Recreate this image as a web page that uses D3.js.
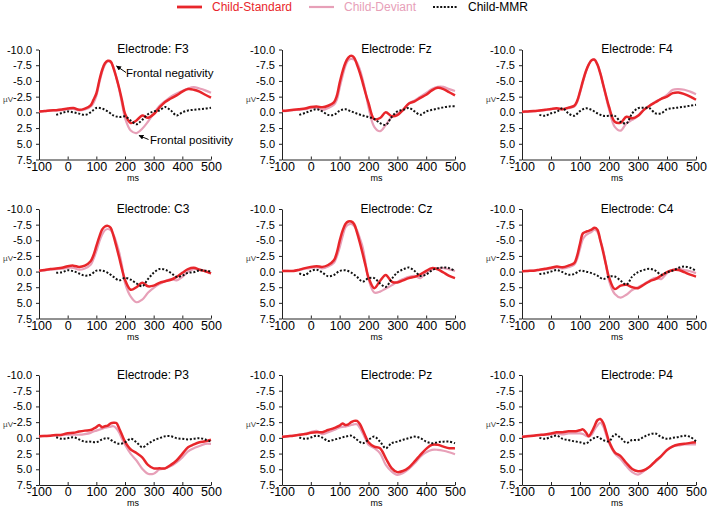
<!DOCTYPE html>
<html>
<head>
<meta charset="utf-8">
<script src="https://cdn.jsdelivr.net/npm/d3@7"></script>
<style>
  body { margin: 0; background: #fff; }
  svg { display: block; font-family: "Liberation Sans", Arial, sans-serif; }
</style>
</head>
<body>
<svg id="chart" width="708" height="507"></svg>
<script>
// ---------- DATA ----------
const times = [-100,-80,-60,-40,-20,0,20,40,60,80,90,100,110,120,130,140,150,160,170,180,190,200,220,240,260,280,300,320,340,360,380,400,420,440,460,480,500];
const mmrTimes = [-40,-20,0,20,40,60,80,100,120,140,160,180,200,220,240,260,280,300,320,340,360,380,400,420,440,460,480,500];
const xTicks = [-100,0,100,200,300,400,500];
const yTicks = [-10,-7.5,-5,-2.5,0,2.5,5,7.5];
const seriesNames = ["Child-Standard","Child-Deviant","Child-MMR"];
const electrodes = ["F3","Fz","F4","C3","Cz","C4","P3","Pz","P4"];

const f3Std = [-0.15,-0.2,-0.3,-0.35,-0.45,-0.6,-0.7,-0.4,-0.6,-1.1,-2.0,-3.0,-5.0,-6.7,-7.8,-8.2,-8.1,-7.0,-5.5,-3.8,-1.8,0.2,1.7,1.3,0.5,0.85,0.3,-0.75,-1.65,-2.2,-2.7,-3.3,-3.7,-3.6,-3.3,-2.8,-2.35];
const f3Dev = [-0.1,-0.2,-0.3,-0.3,-0.35,-0.5,-0.55,-0.3,-0.45,-0.9,-1.5,-2.6,-4.6,-6.4,-7.6,-8.1,-8.0,-7.1,-5.6,-3.6,-1.3,0.9,2.9,3.3,2.6,1.5,0.2,-1.0,-1.8,-2.5,-3.0,-3.4,-3.8,-4.0,-3.8,-3.5,-3.1];
const f3Mmr = [0.4,0.1,-0.15,0,0.2,0.4,0,-0.7,-0.6,-0.15,0.5,0.75,0.65,1.3,1.9,1.2,0.3,-0.15,-0.3,-0.85,-0.3,0.5,0,-0.3,-0.4,-0.5,-0.6,-0.75];

const fzStd = [-0.25,-0.3,-0.4,-0.5,-0.6,-0.85,-0.95,-0.8,-1.05,-1.6,-2.6,-4.7,-6.5,-7.9,-8.7,-9.0,-8.7,-7.6,-6.3,-4.7,-3.0,-1.5,1.1,0.9,0.0,0.6,0.45,-0.4,-1.4,-1.75,-2.3,-2.8,-3.5,-3.9,-3.7,-3.2,-2.7];
const fzDev = [-0.2,-0.25,-0.35,-0.4,-0.5,-0.7,-0.7,-0.4,-0.7,-1.2,-2.0,-3.9,-5.8,-7.4,-8.3,-8.5,-8.4,-7.9,-6.8,-5.2,-3.2,-0.8,2.3,3.0,2.0,0.75,0.2,-0.4,-1.4,-1.9,-2.5,-3.1,-3.7,-4.05,-4.05,-3.7,-3.4];
const fzMmr = [0.4,0.1,-0.25,-0.5,-0.15,0.4,0.4,-0.25,-0.5,-0.15,0.2,0.5,0.75,1.05,1.7,2.0,0.75,-0.15,-0.4,-0.7,-0.15,0.4,-0.15,-0.4,-0.6,-0.8,-0.95,-0.95];

const f4Std = [-0.1,-0.15,-0.2,-0.3,-0.4,-0.55,-0.65,-0.5,-0.75,-1.05,-1.8,-3.3,-5.0,-6.5,-7.6,-8.3,-8.4,-7.6,-6.2,-4.4,-2.6,-0.9,1.5,1.65,0.7,0.95,0.55,-0.4,-1.05,-1.6,-2.15,-2.5,-3.05,-3.15,-2.9,-2.5,-2.0];
const f4Dev = [-0.05,-0.1,-0.15,-0.25,-0.35,-0.5,-0.6,-0.5,-0.65,-0.9,-1.6,-3.1,-4.8,-6.4,-7.6,-8.3,-8.4,-7.7,-6.3,-4.4,-2.4,-0.5,2.3,2.9,1.75,1.2,0.55,-0.4,-1.05,-1.7,-2.15,-2.8,-3.6,-3.7,-3.6,-3.3,-2.9];
const f4Mmr = [0.4,0.55,0.15,-0.1,-0.65,0.15,0.55,-0.2,-0.65,-0.4,0.15,0.55,0.55,0.55,1.5,1.75,0.15,-0.65,-0.75,-0.65,0.15,0.15,-0.5,-0.65,-0.8,-0.9,-1.05,-1.2];

const c3Std = [-0.15,-0.25,-0.4,-0.5,-0.6,-0.85,-0.95,-0.75,-0.95,-1.65,-2.6,-4.05,-5.5,-6.7,-7.2,-7.3,-7.0,-5.7,-4.0,-2.2,-0.3,1.3,2.9,2.5,1.8,2.35,2.25,1.8,1.55,1.3,0.85,0.2,-0.4,-0.6,-0.3,-0.05,0.3];
const c3Dev = [-0.1,-0.2,-0.3,-0.4,-0.45,-0.6,-0.6,-0.3,-0.5,-1.1,-2.0,-3.25,-4.7,-5.9,-6.6,-6.8,-6.6,-5.9,-4.6,-3.0,-0.8,1.8,4.0,4.9,4.5,3.4,2.6,2.0,1.55,1.2,1.4,0.85,0.0,-0.4,-0.3,-0.05,0.3];
const c3Mmr = [0.2,0.1,-0.2,-0.05,0.3,0.65,0.5,-0.15,-0.15,0.2,0.85,1.4,1.0,1.3,1.9,2.35,1.2,0.2,-0.4,-0.3,0.2,0.85,0.65,0.2,0.1,-0.2,-0.15,0];

const czStd = [-0.1,-0.1,-0.1,-0.3,-0.55,-0.75,-0.85,-0.75,-1.05,-1.8,-3.0,-4.9,-6.5,-7.6,-8.0,-8.0,-7.6,-6.25,-4.6,-2.8,-0.9,0.95,2.65,1.5,0.55,1.6,1.75,1.4,1.05,0.85,0.45,-0.1,-0.55,-0.35,0.15,0.7,1.05];
const czDev = [-0.1,-0.1,-0.1,-0.25,-0.45,-0.6,-0.7,-0.5,-0.8,-1.4,-2.4,-3.85,-5.6,-7.05,-7.5,-7.6,-7.3,-6.6,-5.3,-3.85,-1.3,1.2,3.35,3.2,2.7,2.2,1.65,1.2,0.85,0.7,1.05,0.15,-0.35,-0.55,-0.55,-0.35,-0.1];
const czMmr = [0.3,0.55,-0.1,-0.3,0.15,0.75,0.55,-0.1,-0.2,0.15,0.85,1.6,1.05,1.05,1.9,2.45,1.2,0.15,-0.35,-0.65,-0.1,0.7,0.45,-0.2,-0.55,-0.65,-0.55,-0.1];

const c4Std = [-0.05,-0.1,-0.15,-0.3,-0.45,-0.6,-0.8,-0.7,-0.95,-1.35,-2.5,-4.45,-6.1,-6.35,-6.5,-6.7,-7.0,-6.7,-5.0,-3.1,-1.0,0.9,2.8,2.25,2.1,2.5,2.65,2.1,1.55,1.2,0.65,0.1,-0.25,-0.25,0.1,0.5,0.8];
const c4Dev = [-0.05,-0.1,-0.15,-0.25,-0.35,-0.5,-0.65,-0.5,-0.7,-1.1,-2.0,-3.65,-5.2,-5.8,-6.1,-6.35,-6.7,-6.35,-5.0,-3.4,-1.0,1.45,3.6,4.15,3.7,2.95,2.5,2.0,1.45,1.0,1.2,0.25,-0.25,-0.45,-0.25,-0.05,0.25];
const c4Mmr = [0.4,0.25,0,-0.25,0.1,0.5,0.4,-0.15,0,0.25,0.65,1.2,0.8,0.8,1.45,2.1,0.8,0.1,-0.25,-0.45,-0.15,0.5,0.1,-0.15,-0.6,-0.8,-0.6,-0.15];

const p3Std = [-0.25,-0.3,-0.35,-0.45,-0.5,-0.75,-0.8,-1.0,-1.15,-1.25,-1.45,-1.7,-2.05,-1.7,-1.85,-1.95,-2.3,-2.4,-2.35,-1.45,-0.4,0.6,1.85,2.4,3.1,4.3,4.85,4.85,4.85,4.3,3.6,2.55,1.5,1.05,0.7,0.55,0.3];
const p3Dev = [-0.25,-0.3,-0.35,-0.4,-0.45,-0.5,-0.5,-0.5,-0.6,-0.8,-1.0,-1.15,-1.3,-1.45,-1.6,-1.7,-1.8,-1.85,-1.5,-0.8,0.2,1.1,2.55,3.6,4.9,5.7,5.7,5.05,4.85,4.5,3.9,3.1,2.15,1.65,1.3,0.95,0.95];
const p3Mmr = [-0.1,0.15,0.05,-0.1,0.25,0.6,0.6,0.7,0.25,0.05,0.6,0.95,0.7,0.15,0.7,1.5,0.95,0.4,0.05,-0.25,-0.25,0.05,0.15,0.25,0.15,0.05,0.25,0.6];

const pzStd = [-0.15,-0.25,-0.35,-0.5,-0.6,-0.8,-0.9,-0.9,-1.25,-1.55,-1.75,-1.95,-2.3,-2.05,-2.15,-2.5,-2.7,-2.7,-2.2,-1.25,-0.2,0.7,1.4,1.65,3.25,4.8,5.45,5.25,4.7,3.75,2.7,1.75,1.1,1.1,1.4,1.65,1.65];
const pzDev = [-0.2,-0.25,-0.35,-0.5,-0.65,-0.9,-1.1,-0.6,-0.9,-1.25,-1.45,-1.65,-1.75,-1.8,-1.9,-2.05,-2.15,-2.15,-1.6,-0.75,0.2,1.1,1.65,2.45,4.3,5.35,5.9,5.6,4.95,4.05,3.0,2.3,1.9,1.9,2.05,2.3,2.6];
const pzMmr = [-0.05,0.15,-0.05,-0.35,-0.05,0.5,0.3,0.05,-0.2,-0.35,0.3,0.85,0.3,-0.2,0.6,1.65,0.85,0.6,0.3,0.05,-0.2,0.05,0.6,0.85,0.7,0.6,0.6,0.85];

const p4Std = [-0.15,-0.25,-0.35,-0.45,-0.55,-0.7,-0.9,-0.9,-1.05,-1.05,-1.1,-1.2,-1.35,-0.9,-0.25,-0.9,-1.85,-2.8,-3.0,-2.4,-1.0,0.55,2.3,2.9,4.0,4.95,5.3,5.15,4.6,3.7,2.9,1.95,1.35,1.05,0.95,0.8,0.7];
const p4Dev = [-0.2,-0.3,-0.35,-0.45,-0.5,-0.55,-0.7,-0.55,-0.7,-0.7,-0.7,-0.7,-0.6,-0.35,-0.2,-0.5,-1.3,-1.95,-2.4,-1.85,-0.5,0.8,2.5,3.35,4.5,5.45,5.85,5.3,4.6,3.85,2.9,1.85,1.35,1.2,1.05,1.05,1.05];
const p4Mmr = [0,0.15,-0.15,-0.35,0.15,0.35,0.55,0.7,0.9,0.25,-0.15,0.35,0.55,-0.55,0,0.8,0.35,0.35,-0.15,-0.55,-0.7,-0.15,0.15,0,-0.15,-0.35,-0.15,0.55];

// ---------- LAYOUT / STYLE ----------
const colors = { std: "#e8262b", dev: "#e7a0b8", mmr: "#111" };
const cols = [{l:39, r:211}, {l:282, r:455}, {l:522, r:696}];
const rows = [{t:49.5, b:159.5}, {t:209, b:318.5}, {t:375, b:485}];
const panelData = [
  [f3Std,f3Dev,f3Mmr],[fzStd,fzDev,fzMmr],[f4Std,f4Dev,f4Mmr],
  [c3Std,c3Dev,c3Mmr],[czStd,czDev,czMmr],[c4Std,c4Dev,c4Mmr],
  [p3Std,p3Dev,p3Mmr],[pzStd,pzDev,pzMmr],[p4Std,p4Dev,p4Mmr]
];

const svg = d3.select("#chart");

// Legend
const legendItems = [
  {name: seriesNames[0], color: colors.std, x: 177, w: 2.8, dash: null, text: colors.std},
  {name: seriesNames[1], color: colors.dev, x: 309, w: 2.2, dash: null, text: colors.dev},
  {name: seriesNames[2], color: colors.mmr, x: 433, w: 2, dash: "2 1.6", text: "#000"}
];
const lg = svg.append("g");
legendItems.forEach(it => {
  lg.append("line").attr("x1", it.x).attr("x2", it.x + 25).attr("y1", 7).attr("y2", 7)
    .attr("stroke", it.color).attr("stroke-width", it.w)
    .attr("stroke-dasharray", it.dash);
  lg.append("text").attr("x", it.x + 35).attr("y", 11).attr("font-size", 12)
    .attr("fill", it.text).text(it.name);
});

const line = (x, y) => d3.line().x(d => x(d[0])).y(d => y(d[1])).curve(d3.curveCatmullRom.alpha(0.5));

electrodes.forEach((name, i) => {
  const c = cols[i % 3], r = rows[Math.floor(i / 3)];
  const x = d3.scaleLinear().domain([-100, 500]).range([c.l, c.r]);
  const y = d3.scaleLinear().domain([-10, 7.5]).range([r.t, r.b]);
  const g = svg.append("g");

  // y axis
  const ya = g.append("g").attr("transform", `translate(${c.l},0)`)
    .call(d3.axisLeft(y).tickValues(yTicks).tickFormat(d => d.toFixed(1)).tickSizeInner(3).tickSizeOuter(0).tickPadding(4));
  ya.selectAll("text").attr("font-size", 11);
  // x axis
  const xa = g.append("g").attr("transform", `translate(0,${r.b})`)
    .call(d3.axisBottom(x).tickValues(xTicks).tickFormat(d => String(d)).tickSizeInner(-3).tickSizeOuter(0).tickPadding(2.5));
  xa.selectAll("text").attr("font-size", 12.5);
  [ya, xa].forEach(a => {
    a.selectAll("text").attr("fill", "#000").attr("font-family", "Liberation Sans, Arial, sans-serif");
    a.selectAll("line,path").attr("stroke", "#222");
  });

  // labels
  g.append("text").attr("x", (c.l + c.r) / 2 + 28).attr("y", r.t + 3.5)
    .attr("text-anchor", "middle").attr("font-size", 12).attr("fill", "#000")
    .text("Electrode: " + name);
  g.append("text").attr("x", c.l - 26).attr("y", y(-2.5) + 5)
    .attr("text-anchor", "end").attr("font-size", 8).attr("fill", "#444").text("µV");
  g.append("text").attr("x", (c.l + c.r) / 2 + 8).attr("y", r.b + 21)
    .attr("text-anchor", "middle").attr("font-size", 9).attr("fill", "#000").text("ms");

  const [std, dev, mmr] = panelData[i];
  const L = line(x, y);
  g.append("path").datum(times.map((t, k) => [t, dev[k]])).attr("d", L)
    .attr("fill", "none").attr("stroke", colors.dev).attr("stroke-width", 2.2);
  g.append("path").datum(times.map((t, k) => [t, std[k]])).attr("d", L)
    .attr("fill", "none").attr("stroke", colors.std).attr("stroke-width", 2.5);
  g.append("path").datum(mmrTimes.map((t, k) => [t, mmr[k]])).attr("d", L)
    .attr("fill", "none").attr("stroke", colors.mmr).attr("stroke-width", 2)
    .attr("stroke-dasharray", "2 1.8");

  if (name === "F3") {
    const defs = svg.append("defs");
    defs.append("marker").attr("id", "arr").attr("viewBox", "0 0 10 10")
      .attr("refX", 9).attr("refY", 5).attr("markerWidth", 5).attr("markerHeight", 5)
      .attr("orient", "auto").append("path").attr("d", "M0,0L10,5L0,10z").attr("fill", "#000");
    const ann = [
      {text: "Frontal negativity", tx: 126, ty: 77, x1: 126, y1: 72.5, x2: 116.5, y2: 66},
      {text: "Frontal positivity", tx: 150, ty: 144, x1: 148.5, y1: 139.5, x2: 139, y2: 135.5}
    ];
    ann.forEach(a => {
      g.append("line").attr("x1", a.x1).attr("y1", a.y1).attr("x2", a.x2).attr("y2", a.y2)
        .attr("stroke", "#000").attr("stroke-width", 1).attr("marker-end", "url(#arr)");
      g.append("text").attr("x", a.tx).attr("y", a.ty).attr("font-size", 11.5).attr("fill", "#000").text(a.text);
    });
  }
});
</script>
</body>
</html>
